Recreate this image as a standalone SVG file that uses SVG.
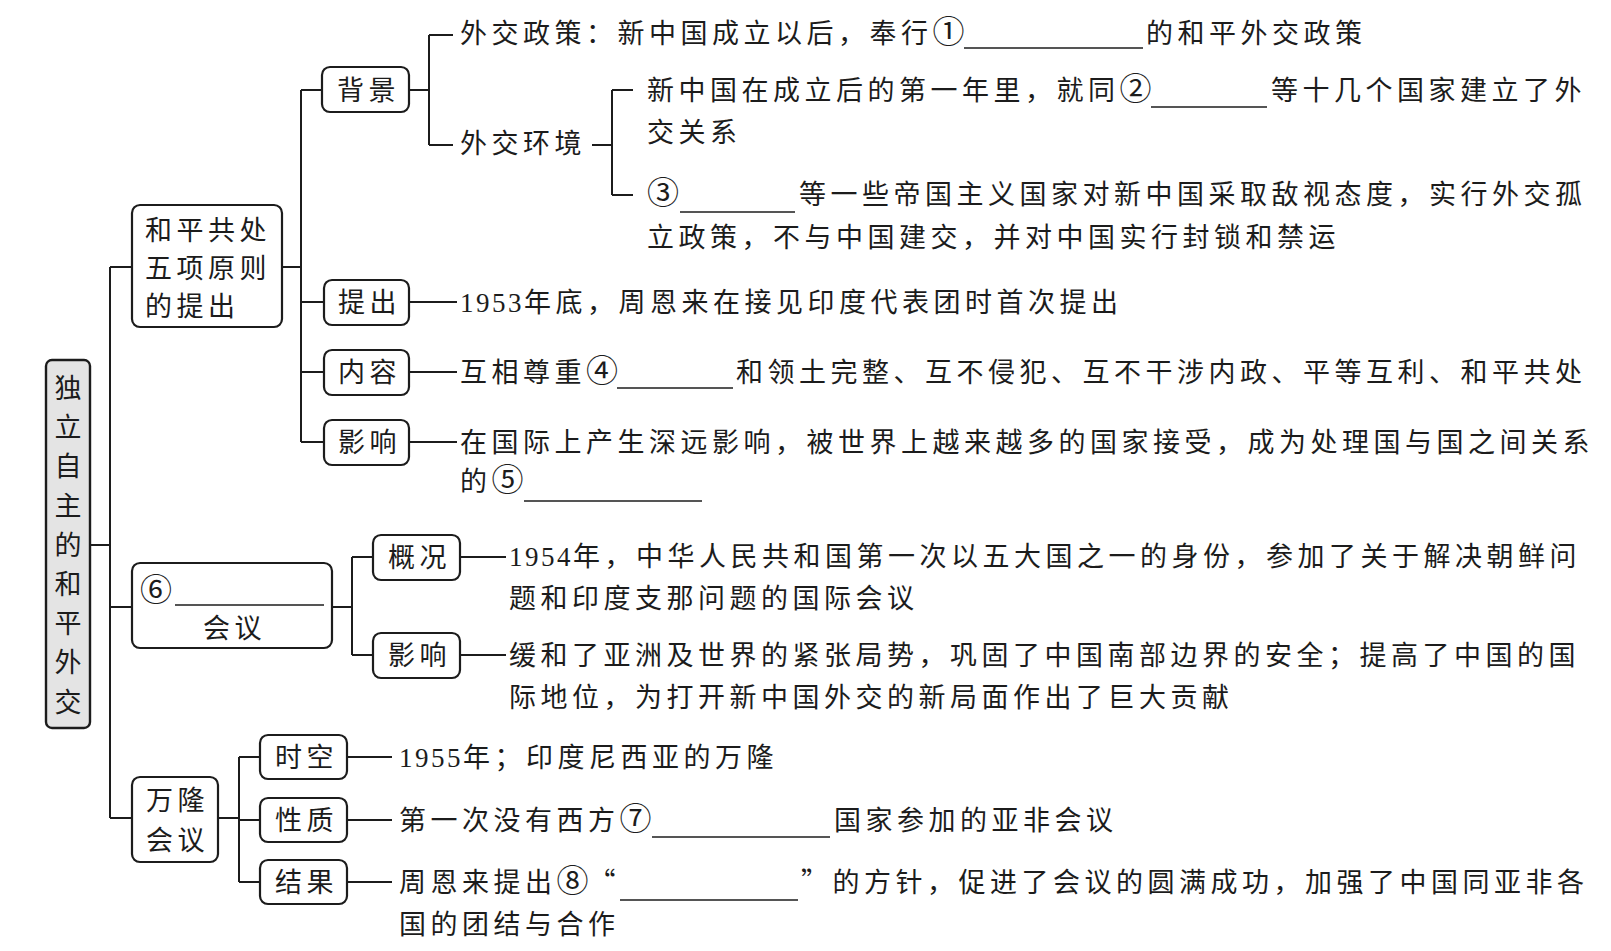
<svg xmlns="http://www.w3.org/2000/svg" width="1611" height="951" viewBox="0 0 1611 951">
<style>
.box{fill:#fff;stroke:#1c1c1c;stroke-width:2.2}
.rootbox{fill:#e4e4e4;stroke:#1c1c1c;stroke-width:2.4}
.ln{stroke:#1c1c1c;stroke-width:2;fill:none}
.bl{stroke:#1c1c1c;stroke-width:1.6;fill:none}
.t{font-family:"Liberation Serif","Noto Sans CJK SC",serif;font-size:27px;fill:#1c1c1c;letter-spacing:4.5px}
.d{letter-spacing:2.5px}
.q{font-family:"Noto Sans CJK SC",sans-serif}
.c{font-family:"Noto Sans CJK SC",sans-serif;font-size:32px;letter-spacing:0}
</style>
<rect width="1611" height="951" fill="#fff"/>
<g id="connectors">
<path class="ln" d="M90 545H110M110 267V818M110 267H132M110 607H132M110 818H132"/>
<path class="ln" d="M282 267H301M301 90V442M301 90H322M301 302H324M301 372H324M301 442H324"/>
<path class="ln" d="M409 90H429M429 35V145M429 35H453M429 145H453"/>
<path class="ln" d="M592 145H612M612 90V195M612 90H633M612 195H633"/>
<path class="ln" d="M409 302H457M409 372H457M409 442H457"/>
<path class="ln" d="M332 607H352M352 557V655M352 557H373M352 655H373"/>
<path class="ln" d="M460 557H506M460 655H506"/>
<path class="ln" d="M218 818H239M239 757V882M239 757H260M239 820H260M239 882H260"/>
<path class="ln" d="M347 757H392M347 820H392M347 882H392"/>
</g>
<g id="root">
<rect class="rootbox" x="46" y="360" width="44" height="368" rx="6"/>
<g class="t" text-anchor="middle" style="letter-spacing:0">
<text x="68" y="398">独</text><text x="68" y="437">立</text><text x="68" y="476">自</text><text x="68" y="516">主</text><text x="68" y="555">的</text><text x="68" y="594">和</text><text x="68" y="633">平</text><text x="68" y="672">外</text><text x="68" y="712">交</text>
</g>
</g>
<g id="n-heping">
<rect class="box" x="132" y="205" width="150" height="122" rx="8"/>
<text class="t" x="145" y="240">和平共处</text>
<text class="t" x="145" y="278">五项原则</text>
<text class="t" x="145" y="316">的提出</text>
</g>
<g id="n-beijing">
<rect class="box" x="322" y="67" width="87" height="45" rx="8"/>
<text class="t" x="337" y="100">背景</text>
</g>
<g id="n-waijiaozhengce">
<text class="t" x="460" y="43">外交政策：新中国成立以后，奉行<tspan class="c">①</tspan></text>
<line class="bl" x1="964" y1="48" x2="1143" y2="48"/>
<text class="t" x="1146" y="43">的和平外交政策</text>
</g>
<g id="n-waijiaohuanjing">
<text class="t" x="460" y="153">外交环境</text>
</g>
<g id="n-env1">
<text class="t" x="647" y="100">新中国在成立后的第一年里，就同<tspan class="c">②</tspan></text>
<line class="bl" x1="1151" y1="107" x2="1267" y2="107"/>
<text class="t" x="1271" y="100">等十几个国家建立了外</text>
<text class="t" x="647" y="142">交关系</text>
</g>
<g id="n-env2">
<text class="t" x="647" y="204"><tspan class="c">③</tspan></text>
<line class="bl" x1="680" y1="212" x2="795" y2="212"/>
<text class="t" x="799" y="204">等一些帝国主义国家对新中国采取敌视态度，实行外交孤</text>
<text class="t" x="647" y="247">立政策，不与中国建交，并对中国实行封锁和禁运</text>
</g>
<g id="n-tichu">
<rect class="box" x="324" y="280" width="85" height="45" rx="8"/>
<text class="t" x="338" y="312">提出</text>
<text class="t" x="460" y="312"><tspan class="d">1953</tspan>年底，周恩来在接见印度代表团时首次提出</text>
</g>
<g id="n-neirong">
<rect class="box" x="324" y="350" width="85" height="45" rx="8"/>
<text class="t" x="338" y="382">内容</text>
<text class="t" x="460" y="382">互相尊重<tspan class="c">④</tspan></text>
<line class="bl" x1="617" y1="388" x2="733" y2="388"/>
<text class="t" x="736" y="382">和领土完整、互不侵犯、互不干涉内政、平等互利、和平共处</text>
</g>
<g id="n-yingxiang1">
<rect class="box" x="324" y="420" width="85" height="45" rx="8"/>
<text class="t" x="338" y="452">影响</text>
<text class="t" x="460" y="452">在国际上产生深远影响，被世界上越来越多的国家接受，成为处理国与国之间关系</text>
<text class="t" x="460" y="491">的<tspan class="c">⑤</tspan></text>
<line class="bl" x1="524" y1="501" x2="702" y2="501"/>
</g>
<g id="n-rineiwa">
<rect class="box" x="132" y="563" width="200" height="85" rx="8"/>
<text class="t" x="140" y="601"><tspan class="c">⑥</tspan></text>
<line class="bl" x1="175" y1="605" x2="324" y2="605"/>
<text class="t" x="203" y="638">会议</text>
</g>
<g id="n-gaikuang">
<rect class="box" x="373" y="535" width="87" height="45" rx="8"/>
<text class="t" x="388" y="567">概况</text>
<text class="t" x="509" y="566"><tspan class="d">1954</tspan>年，中华人民共和国第一次以五大国之一的身份，参加了关于解决朝鲜问</text>
<text class="t" x="509" y="608">题和印度支那问题的国际会议</text>
</g>
<g id="n-yingxiang2">
<rect class="box" x="373" y="633" width="87" height="45" rx="8"/>
<text class="t" x="388" y="665">影响</text>
<text class="t" x="509" y="665">缓和了亚洲及世界的紧张局势，巩固了中国南部边界的安全；提高了中国的国</text>
<text class="t" x="509" y="707">际地位，为打开新中国外交的新局面作出了巨大贡献</text>
</g>
<g id="n-wanlong">
<rect class="box" x="132" y="777" width="86" height="85" rx="8"/>
<text class="t" x="146" y="810">万隆</text>
<text class="t" x="146" y="850">会议</text>
</g>
<g id="n-shikong">
<rect class="box" x="260" y="735" width="87" height="44" rx="8"/>
<text class="t" x="275" y="767">时空</text>
<text class="t" x="399" y="767"><tspan class="d">1955</tspan>年；印度尼西亚的万隆</text>
</g>
<g id="n-xingzhi">
<rect class="box" x="260" y="798" width="87" height="44" rx="8"/>
<text class="t" x="275" y="830">性质</text>
<text class="t" x="399" y="830">第一次没有西方<tspan class="c">⑦</tspan></text>
<line class="bl" x1="652" y1="837" x2="830" y2="837"/>
<text class="t" x="834" y="830">国家参加的亚非会议</text>
</g>
<g id="n-jieguo">
<rect class="box" x="260" y="860" width="87" height="44" rx="8"/>
<text class="t" x="275" y="892">结果</text>
<text class="t" x="399" y="892">周恩来提出<tspan class="c">⑧</tspan><tspan class="q">“</tspan></text>
<line class="bl" x1="620" y1="900" x2="798" y2="900"/>
<text class="t" x="801" y="892"><tspan class="q">”</tspan>的方针，促进了会议的圆满成功，加强了中国同亚非各</text>
<text class="t" x="399" y="934">国的团结与合作</text>
</g>
</svg>
